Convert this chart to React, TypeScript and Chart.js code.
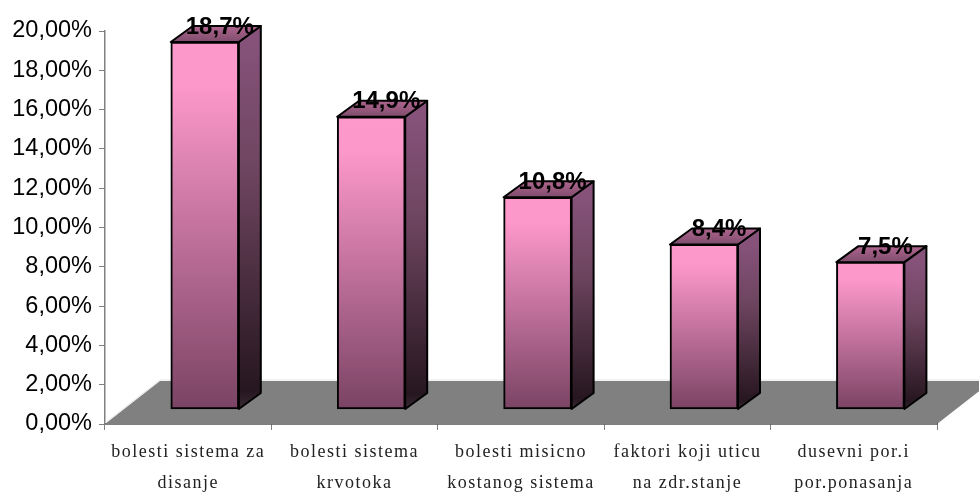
import React, { useEffect, useRef } from "react";
import { Chart, registerables } from "chart.js";

Chart.register(...registerables);

const categories = [
  ["bolesti sistema za", "disanje"],
  ["bolesti sistema", "krvotoka"],
  ["bolesti misicno", "kostanog sistema"],
  ["faktori koji uticu", "na zdr.stanje"],
  ["dusevni por.i", "por.ponasanja"],
];
const values = [18.7, 14.9, 10.8, 8.4, 7.5];
const axisMax = 20;
const axisStep = 2;

const FLOOR_DX = 55;
const FLOOR_DY = 43;
const SHIFT_X = 16.6;
const SHIFT_Y = -14.5;
const DEPTH_X = 22;
const DEPTH_Y = 16;

function stops(g: CanvasGradient, list: [number, string][]) {
  list.forEach(([o, c]) => g.addColorStop(o, c));
  return g;
}

const scene = {
  id: "scene",
  beforeDraw(chart: any) {
    const s = chart.scales.x;
    if (!s.__patched) {
      const orig = s.drawLabels.bind(s);
      s.drawLabels = (area: any) => {
        const c = chart.ctx;
        c.save();
        c.letterSpacing = "1.5px";
        orig(area);
        c.restore();
      };
      s.__patched = true;
    }
  },
  beforeDatasetsDraw(chart: any) {
    const { ctx, chartArea: a, scales } = chart;
    const y0 = scales.y.getPixelForValue(0);
    ctx.save();
    ctx.fillStyle = "#808080";
    ctx.beginPath();
    ctx.moveTo(a.left, y0);
    ctx.lineTo(a.right, y0);
    ctx.lineTo(a.right + FLOOR_DX, y0 - FLOOR_DY);
    ctx.lineTo(a.left + FLOOR_DX, y0 - FLOOR_DY);
    ctx.closePath();
    ctx.fill();
    ctx.strokeStyle = "#e6e6e6";
    ctx.lineWidth = 1;
    ctx.beginPath();
    ctx.moveTo(a.left, y0 - 1);
    ctx.lineTo(a.left + FLOOR_DX, y0 - FLOOR_DY - 1);
    ctx.lineTo(a.right + FLOOR_DX, y0 - FLOOR_DY - 1);
    ctx.stroke();
    ctx.restore();

    ctx.save();
    ctx.translate(SHIFT_X, SHIFT_Y);
    const meta = chart.getDatasetMeta(0);
    meta.data.forEach((bar: any) => {
      const { x, y, base, width } = bar.getProps(["x", "y", "base", "width"], true);
      const l = x - width / 2;
      const r = x + width / 2;
      ctx.lineWidth = 2;
      ctx.strokeStyle = "#000";
      ctx.lineJoin = "round";
      ctx.fillStyle = stops(ctx.createLinearGradient(0, y, 0, base), [
        [0, "#86527A"],
        [0.35, "#6E4560"],
        [0.95, "#26161F"],
        [1, "#3a2a33"],
      ]);
      ctx.beginPath();
      ctx.moveTo(r, y);
      ctx.lineTo(r + DEPTH_X, y - DEPTH_Y);
      ctx.lineTo(r + DEPTH_X, base - DEPTH_Y);
      ctx.lineTo(r, base);
      ctx.closePath();
      ctx.fill();
      ctx.stroke();
      ctx.fillStyle = stops(ctx.createLinearGradient(0, y - DEPTH_Y, 0, y), [
        [0, "#B0658F"],
        [1, "#7E4D6C"],
      ]);
      ctx.beginPath();
      ctx.moveTo(l, y);
      ctx.lineTo(l + DEPTH_X, y - DEPTH_Y);
      ctx.lineTo(r + DEPTH_X, y - DEPTH_Y);
      ctx.lineTo(r, y);
      ctx.closePath();
      ctx.fill();
      ctx.stroke();
    });
  },
  afterDatasetsDraw(chart: any) {
    const { ctx } = chart;
    ctx.restore();
    const meta = chart.getDatasetMeta(0);
    ctx.save();
    ctx.fillStyle = "#000";
    ctx.font = 'bold 24px "Liberation Sans"';
    ctx.textAlign = "center";
    ctx.textBaseline = "middle";
    meta.data.forEach((bar: any, i: number) => {
      const { x, y } = bar.getProps(["x", "y"], true);
      ctx.fillText(
        values[i].toFixed(1).replace(".", ",") + "%",
        x + SHIFT_X + DEPTH_X / 2 + 4,
        y + SHIFT_Y - DEPTH_Y + 1
      );
    });
    ctx.restore();
  },
};

export default function App() {
  const ref = useRef<HTMLCanvasElement>(null);
  useEffect(() => {
    document.body.style.margin = "0";
    const chart = new Chart(ref.current!, {
      type: "bar",
      data: {
        labels: categories,
        datasets: [
          {
            data: values,
            barThickness: 68,
            clip: false,
            borderWidth: 2,
            borderColor: "#000",
            borderSkipped: false,
            backgroundColor: (c: any) => {
              const yS = c.chart.scales.y;
              if (!yS || c.parsed == null) return "#FF99CC";
              const top = yS.getPixelForValue(c.parsed.y);
              const bot = yS.getPixelForValue(0);
              if (!Number.isFinite(top) || !Number.isFinite(bot)) return "#FF99CC";
              return stops(c.chart.ctx.createLinearGradient(0, top, 0, bot), [
                [0, "#FF99CC"],
                [0.12, "#FC98CA"],
                [1, "#7A4364"],
              ]);
            },
          } as any,
        ],
      },
      options: {
        responsive: false,
        animation: false,
        events: [],
        layout: { padding: { left: 0, right: 42, top: 31, bottom: 0 } },
        plugins: { legend: { display: false }, tooltip: { enabled: false } },
        scales: {
          x: {
            afterFit: (s: any) => { s.height = 69; },
            border: { color: "#000", width: 1.5 },
            grid: { drawOnChartArea: false, drawTicks: true, tickLength: 6, color: "#808080", offset: true },
            ticks: {
              maxRotation: 0,
              autoSkip: false,
              color: "#222",
              padding: 7,
              font: { family: '"Liberation Serif"', size: 18, lineHeight: 1.7 },
            },
          },
          y: {
            min: 0,
            max: axisMax,
            afterFit: (s: any) => { s.width = 105; },
            border: { color: "#808080", width: 1.5 },
            grid: { drawOnChartArea: false, drawTicks: true, tickLength: 6, color: "#808080" },
            ticks: {
              stepSize: axisStep,
              color: "#000",
              padding: 7,
              font: { family: '"Liberation Sans"', size: 23.5 },
              callback: (v: any) => Number(v).toFixed(2).replace(".", ",") + "%",
            },
          },
        },
      },
      plugins: [scene],
    });
    return () => chart.destroy();
  }, []);
  return <canvas ref={ref} width={979} height={493} style={{ display: "block" }} />;
}
